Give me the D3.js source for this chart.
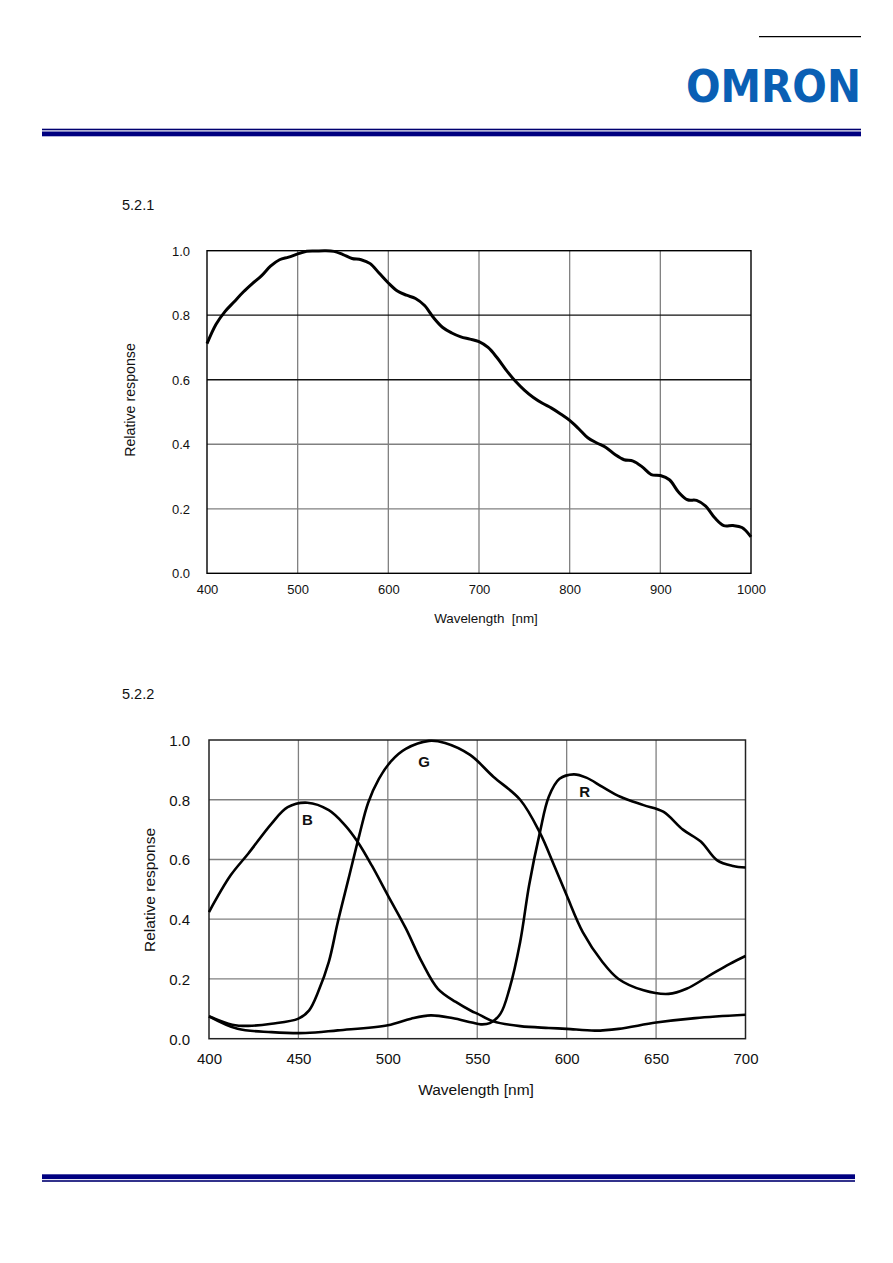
<!DOCTYPE html>
<html><head><meta charset="utf-8">
<script src="https://cdn.jsdelivr.net/npm/d3@7/dist/d3.min.js"></script>
<style>body{margin:0;background:#fff}svg{display:block;font-family:"Liberation Sans",Arial,sans-serif}</style>
</head><body>
<svg id="page" width="893" height="1263"></svg>
<script>
// ---------- data ----------
const mono_wl = [400,410,420,430,440,450,460,470,480,490,500,510,520,530,540,550,560,570,580,590,600,610,620,630,640,650,660,670,680,690,700,710,720,730,740,750,760,770,780,790,800,810,820,830,840,850,860,870,880,890,900,910,920,930,940,950,960,970,980,990,1000];
const mono_resp = [0.712,0.772,0.812,0.842,0.872,0.898,0.922,0.952,0.972,0.980,0.990,0.998,0.999,1.000,0.998,0.988,0.976,0.972,0.960,0.930,0.900,0.875,0.862,0.852,0.830,0.792,0.762,0.745,0.733,0.726,0.718,0.700,0.668,0.630,0.596,0.568,0.545,0.527,0.512,0.494,0.474,0.448,0.420,0.404,0.390,0.368,0.352,0.348,0.330,0.306,0.303,0.290,0.252,0.228,0.226,0.208,0.172,0.148,0.148,0.142,0.113];
const mono_xticks = [400,500,600,700,800,900,1000];
const mono_yticks = [0.0,0.2,0.4,0.6,0.8,1.0];

const col_wl_B = [400,412,422,435,444,455,467,476,483,491,500,510,519,528,538,547,550,559,574,590,600,616,629,650,672,700];
const col_B    = [0.424,0.546,0.620,0.720,0.775,0.790,0.765,0.715,0.660,0.580,0.480,0.370,0.257,0.167,0.123,0.092,0.084,0.058,0.042,0.036,0.033,0.027,0.033,0.054,0.069,0.080];
const col_wl_G = [400,413,422,435,450,456,461,467,472,478,484,489,495,502,510,523,532,546,559,574,585,593,600,609,620,629,643,657,667,680,691,700];
const col_G    = [0.075,0.047,0.043,0.050,0.067,0.095,0.156,0.257,0.390,0.535,0.680,0.790,0.870,0.930,0.970,0.997,0.990,0.950,0.877,0.800,0.690,0.580,0.480,0.357,0.257,0.200,0.162,0.150,0.167,0.212,0.250,0.277];
const col_wl_R = [400,416,435,454,472,500,513,524,536,547,552,557,563,568,574,579,585,590,596,604,611,620,630,643,654,665,675,684,693,700];
const col_R    = [0.075,0.033,0.022,0.019,0.028,0.045,0.067,0.078,0.069,0.054,0.048,0.052,0.084,0.167,0.324,0.514,0.690,0.810,0.870,0.885,0.874,0.843,0.810,0.782,0.760,0.700,0.660,0.598,0.578,0.573];
const col_labels = [{t:"B",x:455,y:0.715},{t:"G",x:520.3,y:0.91},{t:"R",x:610,y:0.81}];
const col_xticks = [400,450,500,550,600,650,700];
const col_yticks = [0.0,0.2,0.4,0.6,0.8,1.0];

const svg = d3.select("#page");

// ---------- page decoration ----------
svg.append("line").attr("x1",759).attr("x2",861).attr("y1",36.7).attr("y2",36.7).attr("stroke","#000").attr("stroke-width",1.2);
svg.append("text").attr("x",686).attr("y",102).attr("textLength",175).attr("lengthAdjust","spacingAndGlyphs")
  .attr("font-family","'DejaVu Sans',sans-serif").attr("font-weight","bold").attr("font-size",45)
  .attr("fill","#0a5fb4").text("OMRON");
svg.append("rect").attr("x",42).attr("y",128.7).attr("width",819).attr("height",1.6).attr("fill","#000070");
svg.append("rect").attr("x",42).attr("y",131.5).attr("width",819).attr("height",4.8).attr("fill","#000080");
svg.append("rect").attr("x",42).attr("y",1174.3).attr("width",813).attr("height",4.8).attr("fill","#000080");
svg.append("rect").attr("x",42).attr("y",1180.2).attr("width",813).attr("height",1.6).attr("fill","#000070");

svg.append("text").attr("x",122).attr("y",210).attr("font-size",14.5).attr("fill","#111").text("5.2.1");
svg.append("text").attr("x",122).attr("y",699).attr("font-size",14.5).attr("fill","#111").text("5.2.2");

// ---------- chart 1 ----------
(function(){
  const L=207,R=751,T=250.7,B=573.3;
  const x=d3.scaleLinear().domain([400,1000]).range([L,R]);
  const y=d3.scaleLinear().domain([0,1]).range([B,T]);
  const g=svg.append("g");
  g.selectAll(".vg").data(mono_xticks.slice(1,-1)).join("line")
    .attr("x1",d=>x(d)).attr("x2",d=>x(d)).attr("y1",T).attr("y2",B).attr("stroke","#808080").attr("stroke-width",1.3);
  g.selectAll(".hg").data(mono_yticks.slice(1,-1)).join("line")
    .attr("x1",L).attr("x2",R).attr("y1",d=>y(d)).attr("y2",d=>y(d))
    .attr("stroke",d=>d>=0.6?"#111":"#808080").attr("stroke-width",1.3);
  g.append("rect").attr("x",L).attr("y",T).attr("width",R-L).attr("height",B-T).attr("fill","none").attr("stroke","#000").attr("stroke-width",1.4);
  const line=d3.line().x((d,i)=>x(mono_wl[i])).y(d=>y(d)).curve(d3.curveCatmullRom.alpha(0.5));
  g.append("path").attr("d",line(mono_resp)).attr("fill","none").attr("stroke","#000").attr("stroke-width",3).attr("stroke-linejoin","round");
  const xa=d3.axisBottom(x).tickValues(mono_xticks).tickSize(0).tickPadding(0).tickFormat(d3.format("d"));
  const xg=g.append("g").attr("transform",`translate(0,${B})`).call(xa);
  xg.select(".domain").remove();
  xg.selectAll("text").attr("y",21).attr("dy",0).attr("font-size",13).attr("font-family","'Liberation Sans',Arial,sans-serif").attr("fill","#111");
  const ya=d3.axisLeft(y).tickValues(mono_yticks).tickSize(0).tickPadding(0).tickFormat(d3.format(".1f"));
  const yg=g.append("g").attr("transform",`translate(190,0)`).call(ya);
  yg.select(".domain").remove();
  yg.selectAll("text").attr("x",0).attr("dy","0.36em").attr("font-size",13).attr("font-family","'Liberation Sans',Arial,sans-serif").attr("fill","#111");
  g.append("text").attr("x",486).attr("y",623).attr("text-anchor","middle").attr("font-size",13.4).attr("fill","#111").attr("xml:space","preserve").text("Wavelength  [nm]");
  g.append("text").attr("transform","translate(135,400) rotate(-90)").attr("text-anchor","middle").attr("font-size",14.2).attr("fill","#111").text("Relative response");
})();

// ---------- chart 2 ----------
(function(){
  const L=209,R=745.5,T=740,B=1038.7;
  const x=d3.scaleLinear().domain([400,700]).range([L,R]);
  const y=d3.scaleLinear().domain([0,1]).range([B,T]);
  const g=svg.append("g");
  g.selectAll(".vg").data(col_xticks.slice(1,-1)).join("line")
    .attr("x1",d=>x(d)).attr("x2",d=>x(d)).attr("y1",T).attr("y2",B).attr("stroke","#808080").attr("stroke-width",1.3);
  g.selectAll(".hg").data(col_yticks.slice(1,-1)).join("line")
    .attr("x1",L).attr("x2",R).attr("y1",d=>y(d)).attr("y2",d=>y(d)).attr("stroke","#808080").attr("stroke-width",1.3);
  g.append("rect").attr("x",L).attr("y",T).attr("width",R-L).attr("height",B-T).attr("fill","none").attr("stroke","#222").attr("stroke-width",1.5);
  const series=[[col_wl_B,col_B],[col_wl_G,col_G],[col_wl_R,col_R]];
  series.forEach(([wl,v])=>{
    const line=d3.line().x((d,i)=>x(wl[i])).y(d=>y(d)).curve(d3.curveCatmullRom.alpha(0.5));
    g.append("path").attr("d",line(v)).attr("fill","none").attr("stroke","#000").attr("stroke-width",2.6).attr("stroke-linejoin","round");
  });
  g.selectAll(".lab").data(col_labels).join("text").attr("x",d=>x(d.x)).attr("y",d=>y(d.y))
    .attr("text-anchor","middle").attr("font-size",15).attr("font-weight","bold").attr("fill","#111").text(d=>d.t);
  const xa=d3.axisBottom(x).tickValues(col_xticks).tickSize(0).tickPadding(0).tickFormat(d3.format("d"));
  const xg=g.append("g").attr("transform",`translate(0,${B})`).call(xa);
  xg.select(".domain").remove();
  xg.selectAll("text").attr("y",25.6).attr("dy",0).attr("font-size",15).attr("font-family","'Liberation Sans',Arial,sans-serif").attr("fill","#111");
  const ya=d3.axisLeft(y).tickValues(col_yticks).tickSize(0).tickPadding(0).tickFormat(d3.format(".1f"));
  const yg=g.append("g").attr("transform",`translate(190,0)`).call(ya);
  yg.select(".domain").remove();
  yg.selectAll("text").attr("x",0).attr("dy","0.36em").attr("font-size",15).attr("font-family","'Liberation Sans',Arial,sans-serif").attr("fill","#111");
  g.append("text").attr("x",476).attr("y",1095).attr("text-anchor","middle").attr("font-size",15.5).attr("fill","#111").text("Wavelength [nm]");
  g.append("text").attr("transform","translate(155,890) rotate(-90)").attr("text-anchor","middle").attr("font-size",15.5).attr("fill","#111").text("Relative response");
})();
</script>
</body></html>
